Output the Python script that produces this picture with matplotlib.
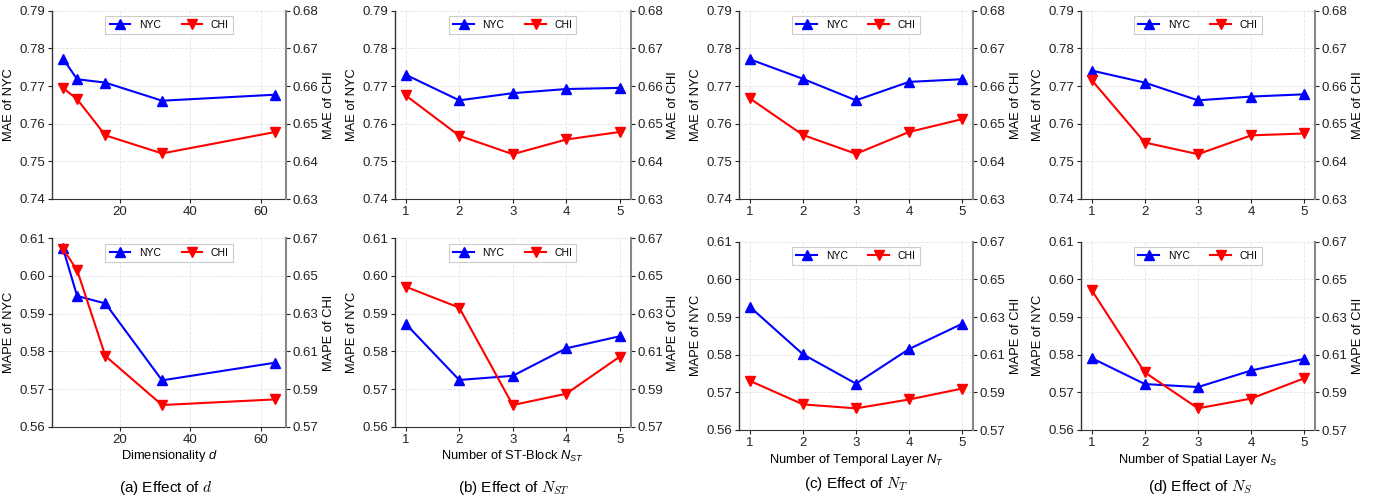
import matplotlib
matplotlib.use("Agg")
import matplotlib.pyplot as plt

plt.rcParams['font.family'] = ['Liberation Sans', 'DejaVu Sans']
plt.rcParams['mathtext.fontset'] = 'custom'
plt.rcParams['mathtext.it'] = 'Liberation Sans:italic'
plt.rcParams['mathtext.rm'] = 'Liberation Sans'

# x values
d_vals = [4, 8, 16, 32, 64]
n_vals = [1, 2, 3, 4, 5]

# (a) dimensionality d
a_mae_nyc = [0.7773, 0.7718, 0.7709, 0.7661, 0.7677]
a_mae_chi = [0.6595, 0.6565, 0.6469, 0.6421, 0.6478]
a_mape_nyc = [0.6074, 0.5947, 0.5927, 0.5723, 0.5770]
a_mape_chi = [0.6644, 0.6531, 0.6075, 0.5815, 0.5845]

# (b) ST-blocks
b_mae_nyc = [0.7730, 0.7662, 0.7681, 0.7692, 0.7695]
b_mae_chi = [0.6575, 0.6468, 0.6419, 0.6458, 0.6478]
b_mape_nyc = [0.5873, 0.5724, 0.5735, 0.5808, 0.5840]
b_mape_chi = [0.6443, 0.6332, 0.5815, 0.5875, 0.6072]

# (c) temporal layers
c_mae_nyc = [0.7771, 0.7719, 0.7662, 0.7711, 0.7718]
c_mae_chi = [0.6567, 0.6470, 0.6420, 0.6478, 0.6512]
c_mape_nyc = [0.5927, 0.5801, 0.5723, 0.5815, 0.5882]
c_mape_chi = [0.5961, 0.5836, 0.5815, 0.5862, 0.5920]

# (d) spatial layers
d_mae_nyc = [0.7741, 0.7709, 0.7662, 0.7672, 0.7678]
d_mae_chi = [0.6616, 0.6450, 0.6419, 0.6469, 0.6474]
d_mape_nyc = [0.5791, 0.5722, 0.5714, 0.5758, 0.5789]
d_mape_chi = [0.6443, 0.6006, 0.5815, 0.5867, 0.5975]

xlabels = ['Dimensionality $d$', 'Number of ST-Block $N_{ST}$',
           'Number of Temporal Layer $N_T$', 'Number of Spatial Layer $N_S$']
captions = ['(a) Effect of $d$', '(b) Effect of $N_{ST}$',
            '(c) Effect of $N_T$', '(d) Effect of $N_S$']

mae_left_ticks = [0.74, 0.75, 0.76, 0.77, 0.78, 0.79]
mae_right_ticks = [0.63, 0.64, 0.65, 0.66, 0.67, 0.68]
mape_left_ticks = [0.56, 0.57, 0.58, 0.59, 0.60, 0.61]
mape_right_ticks = [0.57, 0.59, 0.61, 0.63, 0.65, 0.67]

W, H = 1375, 497
fig = plt.figure(figsize=(W / 100, H / 100), dpi=100)


def rect(x0, x1, y0, y1):
    # pixel box -> figure fraction
    return [x0 / W, 1 - y1 / H, (x1 - x0) / W, (y1 - y0) / H]


def panel(box, x, nyc, chi, lticks, rticks, lname, rname, xticks=None, xlabel=None):
    ax = fig.add_axes(box)
    ax2 = ax.twinx()
    l1, = ax.plot(x, nyc, 'b-', marker='^', ms=6.5, lw=1.5, label='NYC')
    l2, = ax2.plot(x, chi, 'r-', marker='v', ms=6.5, lw=1.5, label='CHI')
    ax.set_ylim(lticks[0], lticks[-1])
    ax2.set_ylim(rticks[0], rticks[-1])
    ax.set_yticks(lticks)
    ax2.set_yticks(rticks)
    ax.set_yticklabels(['%.2f' % v for v in lticks])
    ax2.set_yticklabels(['%.2f' % v for v in rticks])
    if xticks is not None:
        ax.set_xticks(xticks)
    ax.grid(True, color='#e3e3e3', lw=0.6, ls='--')
    ax.set_axisbelow(True)
    ax.set_ylabel(lname, fontsize=9.3, labelpad=3)
    ax2.set_ylabel(rname, fontsize=9.3, labelpad=3)
    if xlabel:
        ax.set_xlabel(xlabel, fontsize=9.3, labelpad=2)
    for a in (ax, ax2):
        a.spines['top'].set_visible(False)
        a.tick_params(labelsize=9.5, length=3, width=0.8, pad=2, colors='#222222')
        a.spines['left'].set_color('#333333')
        a.spines['bottom'].set_color('#333333')
    ax2.spines['right'].set_color('#888888')
    ax2.spines['right'].set_linewidth(1.5)
    ax.spines['left'].set_linewidth(1.0)
    ax2.spines['left'].set_visible(False)
    ax2.spines['bottom'].set_visible(False)
    ax.spines['right'].set_visible(False)
    leg = ax.legend([l1, l2], ['NYC', 'CHI'], loc='upper center', ncol=2,
                    fontsize=7.5, fancybox=False, framealpha=1,
                    edgecolor='#cccccc', borderaxespad=0.5)
    leg.get_frame().set_linewidth(0.8)
    return ax


xs = [(52.3, 286), (395, 630.5), (739.3, 972.7), (1081, 1315)]
top_y = [(10.7, 199)] * 4
bot_y = [(238.3, 426.7), (238.3, 426.7), (241.7, 430), (241.7, 430)]

mae_nyc = [a_mae_nyc, b_mae_nyc, c_mae_nyc, d_mae_nyc]
mae_chi = [a_mae_chi, b_mae_chi, c_mae_chi, d_mae_chi]
mape_nyc = [a_mape_nyc, b_mape_nyc, c_mape_nyc, d_mape_nyc]
mape_chi = [a_mape_chi, b_mape_chi, c_mape_chi, d_mape_chi]
xvals = [d_vals, n_vals, n_vals, n_vals]
xtick_sets = [[20, 40, 60], n_vals, n_vals, n_vals]

cap_pos = [(166, 488), (514, 488), (856, 484), (1200, 487)]

for i in range(4):
    x0, x1 = xs[i]
    panel(rect(x0, x1, *top_y[i]), xvals[i], mae_nyc[i], mae_chi[i],
          mae_left_ticks, mae_right_ticks, 'MAE of NYC', 'MAE of CHI',
          xticks=xtick_sets[i])
    panel(rect(x0, x1, *bot_y[i]), xvals[i], mape_nyc[i], mape_chi[i],
          mape_left_ticks, mape_right_ticks, 'MAPE of NYC', 'MAPE of CHI',
          xticks=xtick_sets[i], xlabel=xlabels[i])
    cx, cy = cap_pos[i]
    fig.text(cx / W, 1 - cy / H, captions[i], ha='center', va='center',
             fontsize=11, math_fontfamily='cm')

fig.savefig('out.png', dpi=100)
